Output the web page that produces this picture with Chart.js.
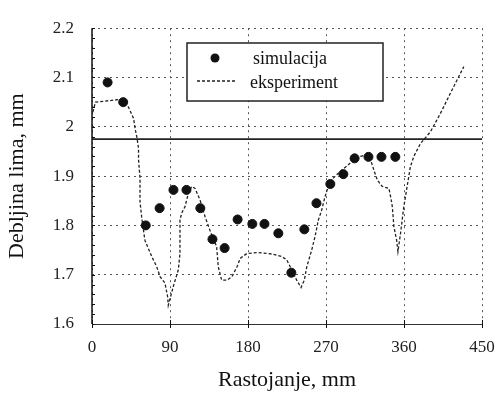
<!DOCTYPE html>
<html>
<head>
<meta charset="utf-8">
<script src="https://cdn.jsdelivr.net/npm/chart.js@4.4.0/dist/chart.umd.min.js"></script>
<style>
  html, body { margin: 0; padding: 0; background: #fff; }
  #wrap { width: 501px; height: 393px; }
</style>
</head>
<body>
<div id="wrap"><canvas id="chart" width="501" height="393"></canvas></div>
<script>
// axis ticks
var xTicks = [0, 90, 180, 270, 360, 450];
var yTicks = [1.6, 1.7, 1.8, 1.9, 2.0, 2.1, 2.2];

// simulacija (points)
var simX = [18, 36, 62, 78, 94, 109, 125, 139, 153, 168, 185, 199, 215, 230, 245, 259, 275, 290, 303, 319, 334, 350];
var simY = [2.09, 2.05, 1.80, 1.835, 1.872, 1.872, 1.835, 1.772, 1.754, 1.812, 1.803, 1.803, 1.784, 1.704, 1.792, 1.845, 1.884, 1.904, 1.936, 1.939, 1.939, 1.939];

// eksperiment (measured line)
var expX = [1, 4, 30, 36, 42, 48, 50, 52, 53.7, 53.7, 55.4, 55.4, 57.3, 61, 68.9, 74.7, 78.5, 84.2, 87.3, 88,
            93.8, 99.6, 101.5, 101.5, 103.5, 107.3, 111.2, 115, 118.9, 124.6, 130.4, 136.1, 143.8, 145.7, 149.6,
            155.8, 161.5, 167.3, 171, 178.7, 192, 207.3, 218.9, 224.7, 230.4, 236.2, 241.2, 245, 247.8, 253.5,
            257.3, 261.2, 265, 268.8, 272.6, 278.4, 284.2, 297, 310, 316, 321.5, 325.3, 329.2, 334.9, 342.6,
            344.6, 346.5, 348.4, 351.5, 353, 356, 359.8, 363.6, 367.4, 371.3, 379, 390.5, 402, 413.5, 421.2, 429];
var expY = [2.03, 2.05, 2.055, 2.05, 2.04, 2.017, 1.994, 1.977, 1.956, 1.933, 1.896, 1.848, 1.817, 1.77, 1.737, 1.716, 1.696, 1.683, 1.655, 1.638,
            1.676, 1.71, 1.743, 1.811, 1.825, 1.838, 1.865, 1.879, 1.875, 1.852, 1.818, 1.79, 1.757, 1.716, 1.689,
            1.689, 1.696, 1.716, 1.733, 1.743, 1.745, 1.742, 1.737, 1.73, 1.71, 1.689, 1.674, 1.689, 1.716, 1.75,
            1.777, 1.811, 1.831, 1.858, 1.879, 1.896, 1.906, 1.925, 1.94, 1.943, 1.933, 1.912, 1.892, 1.879, 1.875,
            1.858, 1.838, 1.797, 1.77, 1.747, 1.784, 1.838, 1.879, 1.919, 1.94, 1.966, 1.99, 2.027, 2.068, 2.095, 2.122];

// horizontal reference line
var refX = [0, 450];
var refY = [1.975, 1.975];

var labels = ["simulacija", "eksperiment"];

function toPoints(xs, ys) {
  var pts = [];
  for (var i = 0; i < xs.length; i++) pts.push({ x: xs[i], y: ys[i] });
  return pts;
}

var serif = "'Liberation Serif', 'DejaVu Serif', serif";

// solid left axis with small inward ticks, and the legend box inside the plot
var frame = {
  id: "frame",
  afterDraw: function(chart) {
    var ctx = chart.ctx;
    var area = chart.chartArea;
    var ys = chart.scales.y;
    var xs = chart.scales.x;
    ctx.save();
    ctx.strokeStyle = "#111";
    ctx.lineWidth = 1.5;
    ctx.beginPath();
    ctx.moveTo(area.left, area.top);
    ctx.lineTo(area.left, area.bottom);
    ctx.stroke();

    ctx.lineWidth = 1;
    ctx.beginPath();
    for (var v = 1.6; v <= 2.2001; v += 0.02) {
      var py = Math.round(ys.getPixelForValue(v)) + 0.5;
      ctx.moveTo(area.left, py);
      ctx.lineTo(area.left + 3, py);
    }
    for (var i = 0; i < xTicks.length; i++) {
      var px = Math.round(xs.getPixelForValue(xTicks[i])) + 0.5;
      ctx.moveTo(px, area.bottom - 4);
      ctx.lineTo(px, area.bottom + 4);
    }
    ctx.stroke();

    ctx.strokeStyle = "#222";
    ctx.lineWidth = 1.5;
    ctx.fillStyle = "#fff";
    ctx.fillRect(187, 43, 196, 58);
    ctx.strokeRect(187, 43, 196, 58);

    ctx.fillStyle = "#111";
    ctx.beginPath();
    ctx.arc(215, 58, 4.5, 0, Math.PI * 2);
    ctx.fill();

    ctx.lineWidth = 1.3;
    ctx.setLineDash([3, 2]);
    ctx.beginPath();
    ctx.moveTo(197, 81);
    ctx.lineTo(235, 81);
    ctx.stroke();
    ctx.setLineDash([]);

    ctx.font = "18px " + serif;
    ctx.textBaseline = "middle";
    ctx.textAlign = "left";
    ctx.fillText(labels[0], 253, 59);
    ctx.fillText(labels[1], 250, 83);
    ctx.restore();
  }
};

var ctx = document.getElementById("chart").getContext("2d");
var chart = new Chart(ctx, {
  type: "scatter",
  data: {
    datasets: [
      {
        label: labels[0],
        data: toPoints(simX, simY),
        backgroundColor: "#111",
        borderColor: "#111",
        pointRadius: 4.5,
        showLine: false
      },
      {
        label: labels[1],
        data: toPoints(expX, expY),
        borderColor: "#222",
        borderWidth: 1.3,
        borderDash: [3, 2],
        pointRadius: 0,
        showLine: true,
        tension: 0
      },
      {
        label: "ref",
        data: toPoints(refX, refY),
        borderColor: "#222",
        borderWidth: 1.8,
        pointRadius: 0,
        showLine: true
      }
    ]
  },
  options: {
    responsive: false,
    animation: false,
    layout: { padding: { top: 27, right: 19, left: 0, bottom: 0 } },
    plugins: {
      legend: { display: false },
      tooltip: { enabled: false }
    },
    scales: {
      x: {
        type: "linear",
        min: 0,
        max: 450,
        afterBuildTicks: function(scale) {
          scale.ticks = xTicks.map(function(v) { return { value: v }; });
        },
        afterFit: function(scale) {
          scale.height = 69;
          scale.paddingLeft = 0;
          scale.paddingRight = 0;
        },
        ticks: {
          color: "#222",
          font: { family: serif, size: 17 },
          padding: 13,
          maxRotation: 0
        },
        grid: { color: "#555", lineWidth: 1, drawTicks: false },
        border: { display: true, color: "#333", width: 1, dash: [2, 4] },
        title: {
          display: true,
          text: "Rastojanje, mm",
          color: "#111",
          font: { family: serif, size: 22 },
          padding: { top: 0, bottom: 0 }
        }
      },
      y: {
        type: "linear",
        min: 1.6,
        max: 2.2,
        afterBuildTicks: function(scale) {
          scale.ticks = yTicks.map(function(v) { return { value: v }; });
        },
        afterFit: function(scale) { scale.width = 92; },
        ticks: {
          color: "#222",
          font: { family: serif, size: 17 },
          padding: 18,
          callback: function(v) { return String(Math.round(v * 10) / 10); }
        },
        grid: { color: "#555", lineWidth: 1, drawTicks: false },
        border: { display: false, dash: [2, 4] },
        title: {
          display: true,
          text: "Debljina lima, mm",
          color: "#111",
          font: { family: serif, size: 22 },
          padding: { top: 4, bottom: 0 }
        }
      }
    }
  },
  plugins: [frame]
});
</script>
</body>
</html>
